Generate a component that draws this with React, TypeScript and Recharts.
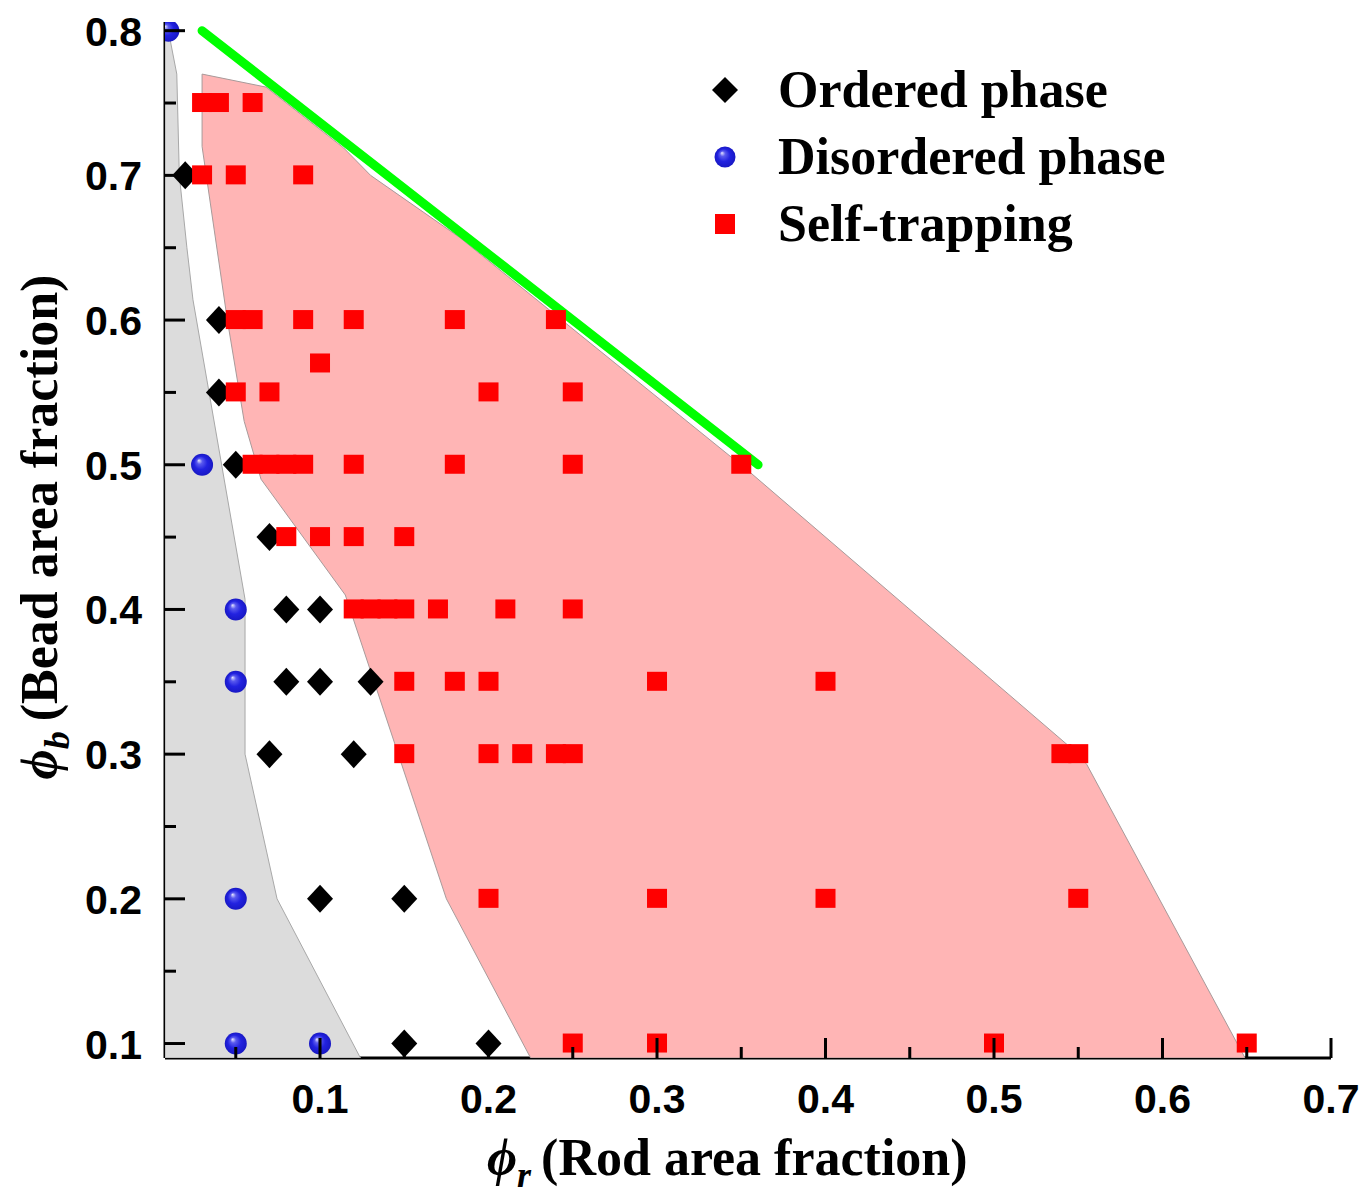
import React from 'react';
import { ScatterChart, Scatter, XAxis, YAxis, Legend } from 'recharts';

// tick values
const xTicks = [0.05, 0.1, 0.15, 0.2, 0.25, 0.3, 0.35, 0.4, 0.45, 0.5, 0.55, 0.6, 0.65, 0.7];
const yTicks = [0.1, 0.15, 0.2, 0.25, 0.3, 0.35, 0.4, 0.45, 0.5, 0.55, 0.6, 0.65, 0.7, 0.75, 0.8];

// phase points (x = rod area fraction, y = bead area fraction)
const ordered = [
  { x: 0.02, y: 0.7 }, { x: 0.04, y: 0.6 }, { x: 0.04, y: 0.55 }, { x: 0.05, y: 0.5 },
  { x: 0.07, y: 0.45 }, { x: 0.08, y: 0.4 }, { x: 0.1, y: 0.4 }, { x: 0.08, y: 0.35 },
  { x: 0.1, y: 0.35 }, { x: 0.13, y: 0.35 }, { x: 0.07, y: 0.3 }, { x: 0.12, y: 0.3 },
  { x: 0.1, y: 0.2 }, { x: 0.15, y: 0.2 }, { x: 0.15, y: 0.1 }, { x: 0.2, y: 0.1 },
];

const disordered = [
  { x: 0.01, y: 0.8 }, { x: 0.03, y: 0.5 }, { x: 0.05, y: 0.4 }, { x: 0.05, y: 0.35 },
  { x: 0.05, y: 0.2 }, { x: 0.05, y: 0.1 }, { x: 0.1, y: 0.1 },
];

const selfTrapping = [
  { x: 0.03, y: 0.75 }, { x: 0.04, y: 0.75 }, { x: 0.06, y: 0.75 },
  { x: 0.03, y: 0.7 }, { x: 0.05, y: 0.7 }, { x: 0.09, y: 0.7 },
  { x: 0.05, y: 0.6 }, { x: 0.06, y: 0.6 }, { x: 0.09, y: 0.6 }, { x: 0.12, y: 0.6 }, { x: 0.18, y: 0.6 }, { x: 0.24, y: 0.6 },
  { x: 0.1, y: 0.57 },
  { x: 0.05, y: 0.55 }, { x: 0.07, y: 0.55 }, { x: 0.2, y: 0.55 }, { x: 0.25, y: 0.55 },
  { x: 0.06, y: 0.5 }, { x: 0.07, y: 0.5 }, { x: 0.08, y: 0.5 }, { x: 0.09, y: 0.5 }, { x: 0.12, y: 0.5 },
  { x: 0.18, y: 0.5 }, { x: 0.25, y: 0.5 }, { x: 0.35, y: 0.5 },
  { x: 0.08, y: 0.45 }, { x: 0.1, y: 0.45 }, { x: 0.12, y: 0.45 }, { x: 0.15, y: 0.45 },
  { x: 0.12, y: 0.4 }, { x: 0.13, y: 0.4 }, { x: 0.14, y: 0.4 }, { x: 0.15, y: 0.4 }, { x: 0.17, y: 0.4 },
  { x: 0.21, y: 0.4 }, { x: 0.25, y: 0.4 },
  { x: 0.15, y: 0.35 }, { x: 0.18, y: 0.35 }, { x: 0.2, y: 0.35 }, { x: 0.3, y: 0.35 }, { x: 0.4, y: 0.35 },
  { x: 0.15, y: 0.3 }, { x: 0.2, y: 0.3 }, { x: 0.22, y: 0.3 }, { x: 0.24, y: 0.3 }, { x: 0.25, y: 0.3 },
  { x: 0.54, y: 0.3 }, { x: 0.55, y: 0.3 },
  { x: 0.2, y: 0.2 }, { x: 0.3, y: 0.2 }, { x: 0.4, y: 0.2 }, { x: 0.55, y: 0.2 },
  { x: 0.25, y: 0.1 }, { x: 0.3, y: 0.1 }, { x: 0.5, y: 0.1 }, { x: 0.65, y: 0.1 },
];

// shaded phase regions (polygon outlines, closed)
const disorderedRegion = [
  { x: 0.01, y: 0.8 }, { x: 0.015, y: 0.77 }, { x: 0.0165, y: 0.7 }, { x: 0.021, y: 0.65 },
  { x: 0.0246, y: 0.614 }, { x: 0.0555, y: 0.407 }, { x: 0.0555, y: 0.3 }, { x: 0.0745, y: 0.2 },
  { x: 0.124, y: 0.09 }, { x: 0.008, y: 0.09 }, { x: 0.008, y: 0.8 }, { x: 0.01, y: 0.8 },
];

const trappingRegion = [
  { x: 0.03, y: 0.77 }, { x: 0.068, y: 0.761 }, { x: 0.114, y: 0.719 }, { x: 0.13, y: 0.7 },
  { x: 0.183, y: 0.657 }, { x: 0.355, y: 0.495 }, { x: 0.545, y: 0.305 }, { x: 0.555, y: 0.293 },
  { x: 0.649, y: 0.09 }, { x: 0.225, y: 0.09 }, { x: 0.175, y: 0.2 }, { x: 0.115, y: 0.41 },
  { x: 0.065, y: 0.49 }, { x: 0.055, y: 0.53 }, { x: 0.045, y: 0.6 }, { x: 0.03, y: 0.72 },
  { x: 0.03, y: 0.77 },
];

const boundaryLine = [{ x: 0.03, y: 0.8 }, { x: 0.36, y: 0.5 }];

const legendItems = ['Ordered phase', 'Disordered phase', 'Self-trapping'];

const SANS = '"Liberation Sans", Arial, sans-serif';
const SERIF = '"Liberation Serif", "Times New Roman", serif';

const isMajor = (v: number) => Math.abs(v * 10 - Math.round(v * 10)) < 1e-6;

const Diamond = (p: any) => {
  const { cx, cy } = p;
  return <polygon points={`${cx},${cy - 14} ${cx + 13},${cy} ${cx},${cy + 14} ${cx - 13},${cy}`} fill="#000" />;
};

const Square = (p: any) => {
  const { cx, cy } = p;
  return <rect x={cx - 10} y={cy - 10} width={20} height={19} fill="#ff0000" />;
};

const Sphere = (p: any) => {
  const { cx, cy } = p;
  return <circle cx={cx} cy={cy} r={11} fill="url(#sphereFill)" />;
};

const Hidden = () => <g />;

const XTick = (props: any) => {
  const { x, y, payload } = props;
  const major = isMajor(payload.value);
  return (
    <g>
      <line x1={x} y1={y} x2={x} y2={y - (major ? 20 : 11)} stroke="#000" strokeWidth={3} />
      {major && (
        <text x={x} y={y + 55} textAnchor="middle" fontFamily={SANS} fontWeight="bold" fontSize={41} fill="#000">
          {payload.value.toFixed(1)}
        </text>
      )}
    </g>
  );
};

const YTick = (props: any) => {
  const { x, y, payload } = props;
  const major = isMajor(payload.value);
  return (
    <g>
      <line x1={x} y1={y} x2={x + (major ? 20 : 11)} y2={y} stroke="#000" strokeWidth={3} />
      {major && (
        <text x={x - 23} y={y + 15} textAnchor="end" fontFamily={SANS} fontWeight="bold" fontSize={41} fill="#000">
          {payload.value.toFixed(1)}
        </text>
      )}
    </g>
  );
};

const XTitle = (props: any) => {
  const { viewBox } = props;
  const x = viewBox.x + 322;
  const y = viewBox.y + 117;
  return (
    <text x={x} y={y} fontFamily={SERIF} fontWeight="bold" fontSize={52} fill="#000">
      <tspan fontStyle="italic">ϕ</tspan>
      <tspan fontStyle="italic" fontSize={36} dy={12}>r</tspan>
      <tspan dy={-12} dx={10}>(Rod area fraction)</tspan>
    </text>
  );
};

const YTitle = (props: any) => {
  const { viewBox } = props;
  const x = viewBox.x + 57;
  const y = viewBox.y + 505;
  return (
    <text x={x} y={y} transform={`rotate(-90, ${x}, ${y})`} textAnchor="middle" fontFamily={SERIF} fontWeight="bold" fontSize={52} fill="#000">
      <tspan fontStyle="italic">ϕ</tspan>
      <tspan fontStyle="italic" fontSize={36} dy={12}>b</tspan>
      <tspan dy={-12} dx={10}>(Bead area fraction)</tspan>
    </text>
  );
};

const LegendBox = () => (
  <svg width={520} height={220}>
    <defs>
      <radialGradient id="sphereLegend" cx="0.5" cy="0.5" r="0.5" fx="0.35" fy="0.3">
        <stop offset="0" stopColor="#e8e8ff" />
        <stop offset="0.25" stopColor="#5a5aee" />
        <stop offset="0.6" stopColor="#2222e0" />
        <stop offset="1" stopColor="#1818c4" />
      </radialGradient>
    </defs>
    {legendItems.map((label, i) => {
      const cy = 40 + i * 67;
      return (
        <g key={label}>
          {i === 0 && <polygon points={`35,${cy - 13} 48,${cy} 35,${cy + 13} 22,${cy}`} fill="#000" />}
          {i === 1 && <circle cx={35} cy={cy} r={10.5} fill="url(#sphereLegend)" />}
          {i === 2 && <rect x={25} y={cy - 10} width={20} height={20} fill="#ff0000" />}
          <text x={88} y={cy + 17} fontFamily={SERIF} fontWeight="bold" fontSize={52} fill="#000">
            {label}
          </text>
        </g>
      );
    })}
  </svg>
);

export default function App() {
  return (
    <div style={{ width: 1366, height: 1194, background: '#fff' }}>
      <style>{'body{margin:0;}'}</style>
      <ScatterChart width={1366} height={1194} margin={{ top: 22, right: 35, bottom: 0, left: 0 }}>
        <defs>
          <radialGradient id="sphereFill" cx="0.5" cy="0.5" r="0.5" fx="0.35" fy="0.3">
            <stop offset="0" stopColor="#e8e8ff" />
            <stop offset="0.25" stopColor="#5a5aee" />
            <stop offset="0.6" stopColor="#2222e0" />
            <stop offset="1" stopColor="#1818c4" />
          </radialGradient>
        </defs>
        <XAxis
          type="number"
          dataKey="x"
          domain={[0.008, 0.7]}
          allowDataOverflow
          ticks={xTicks}
          interval={0}
          height={136}
          tickSize={0}
          tickMargin={0}
          tickLine={false}
          axisLine={{ stroke: '#000', strokeWidth: 3 }}
          tick={<XTick />}
          label={<XTitle />}
        />
        <YAxis
          type="number"
          dataKey="y"
          domain={[0.09, 0.806]}
          allowDataOverflow
          ticks={yTicks}
          interval={0}
          width={165}
          tickSize={0}
          tickMargin={0}
          tickLine={false}
          axisLine={{ stroke: '#000', strokeWidth: 3 }}
          tick={<YTick />}
          label={<YTitle />}
        />
        <Scatter
          name="disordered region"
          data={disorderedRegion}
          legendType="none"
          line={{ fill: '#dcdcdc', stroke: '#a8a8a8', strokeWidth: 1 }}
          lineType="joint"
          lineJointType="linear"
          shape={<Hidden />}
          isAnimationActive={false}
        />
        <Scatter
          name="self-trapping region"
          data={trappingRegion}
          legendType="none"
          line={{ fill: '#ffb5b5', stroke: '#a89a9a', strokeWidth: 1 }}
          lineType="joint"
          lineJointType="linear"
          shape={<Hidden />}
          isAnimationActive={false}
        />
        <Scatter
          name="boundary"
          data={boundaryLine}
          legendType="none"
          line={{ stroke: '#00ff00', strokeWidth: 9, strokeLinecap: 'round' }}
          lineType="joint"
          lineJointType="linear"
          shape={<Hidden />}
          isAnimationActive={false}
        />
        <Scatter name="Ordered phase" data={ordered} shape={<Diamond />} isAnimationActive={false} />
        <Scatter name="Disordered phase" data={disordered} shape={<Sphere />} isAnimationActive={false} />
        <Scatter name="Self-trapping" data={selfTrapping} shape={<Square />} isAnimationActive={false} />
        <Legend
          layout="vertical"
          align="center"
          verticalAlign="middle"
          content={<LegendBox />}
          wrapperStyle={{ left: 690, top: 50, width: 520, height: 220 }}
        />
      </ScatterChart>
    </div>
  );
}
